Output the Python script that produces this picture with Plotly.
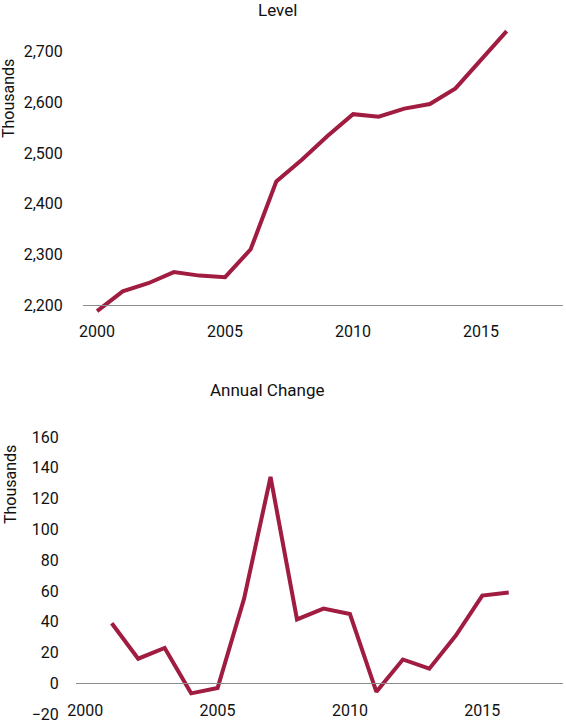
import plotly.graph_objects as go

# values (thousands)
years = list(range(2000, 2017))
level = [2188, 2227, 2243, 2265, 2258, 2255, 2310, 2444, 2487, 2534,
         2577, 2572, 2588, 2597, 2628, 2684, 2741]
change_years = list(range(2001, 2017))
change = [39, 16, 23, -6.5, -3, 55, 134, 41.5, 48.5, 45,
          -5.5, 15.5, 9.5, 31, 57, 59]

level_ticks = [2200, 2300, 2400, 2500, 2600, 2700]
change_ticks = [-20, 0, 20, 40, 60, 80, 100, 120, 140, 160]
year_ticks = [2000, 2005, 2010, 2015]

W, H = 566, 720
RED = "#A01C40"
FONT = "Roboto"


def px_x(p):
    return p / W


def px_y(p):
    return 1 - p / H


fig = go.Figure()
fig.add_trace(go.Scatter(x=years, y=level, mode="lines", xaxis="x", yaxis="y",
                         line=dict(color=RED, width=4), cliponaxis=False))
fig.add_trace(go.Scatter(x=change_years, y=change, mode="lines", xaxis="x2", yaxis="y2",
                         line=dict(color=RED, width=4), cliponaxis=False))

# automargin off: the half-cut "-20" label must not shrink the plot area
xcommon = dict(tickvals=year_ticks, showgrid=False, zeroline=False, showline=True,
               linecolor="#8c8c8c", linewidth=1, ticks="outside", ticklen=12,
               tickcolor="rgba(0,0,0,0)", tickfont=dict(size=16, color="#111"),
               anchor="free", ticklabeloverflow="allow", automargin=False)
ycommon = dict(showgrid=False, zeroline=False, showline=False, ticks="outside",
               tickcolor="rgba(0,0,0,0)", tickfont=dict(size=16, color="#111"),
               ticklabeloverflow="allow", automargin=False)
note = dict(xref="paper", yref="paper", showarrow=False,
            xanchor="center", yanchor="middle")

fig.update_layout(
    width=W, height=H, margin=dict(l=0, r=0, t=0, b=0),
    paper_bgcolor="white", plot_bgcolor="white", showlegend=False,
    font=dict(family=FONT, color="#111"),
    xaxis=dict(**xcommon, domain=[px_x(83), px_x(563)], range=[1999.45, 2018.2],
               position=px_y(305)),
    yaxis=dict(**ycommon, domain=[px_y(315), px_y(20)], range=[2180.2, 2763],
               tickvals=level_ticks, tickformat=",", ticklen=16),
    xaxis2=dict(**xcommon, domain=[px_x(76), px_x(563)], range=[1999.65, 2018.05],
                position=px_y(683.3)),
    yaxis2=dict(**ycommon, domain=[0, px_y(420)], range=[-23.8, 171],
                tickvals=change_ticks, ticklen=20),
    annotations=[
        dict(**note, text="Level", x=px_x(277), y=px_y(10), font=dict(size=17)),
        dict(**note, text="Annual Change", x=px_x(267), y=px_y(390), font=dict(size=17)),
        dict(**note, text="Thousands", x=px_x(9), y=px_y(99), textangle=-90,
             font=dict(size=16)),
        dict(**note, text="Thousands", x=px_x(10), y=px_y(485), textangle=-90,
             font=dict(size=16)),
    ],
)

# drop the browser's default body margin so the figure sits at the page corner
page_js = ("document.documentElement.style.overflow = 'hidden';"
           "document.body.style.margin = '0px';"
           "document.body.style.overflow = 'hidden';")
fig.write_html("out.html", config={"displayModeBar": False}, post_script=page_js)
